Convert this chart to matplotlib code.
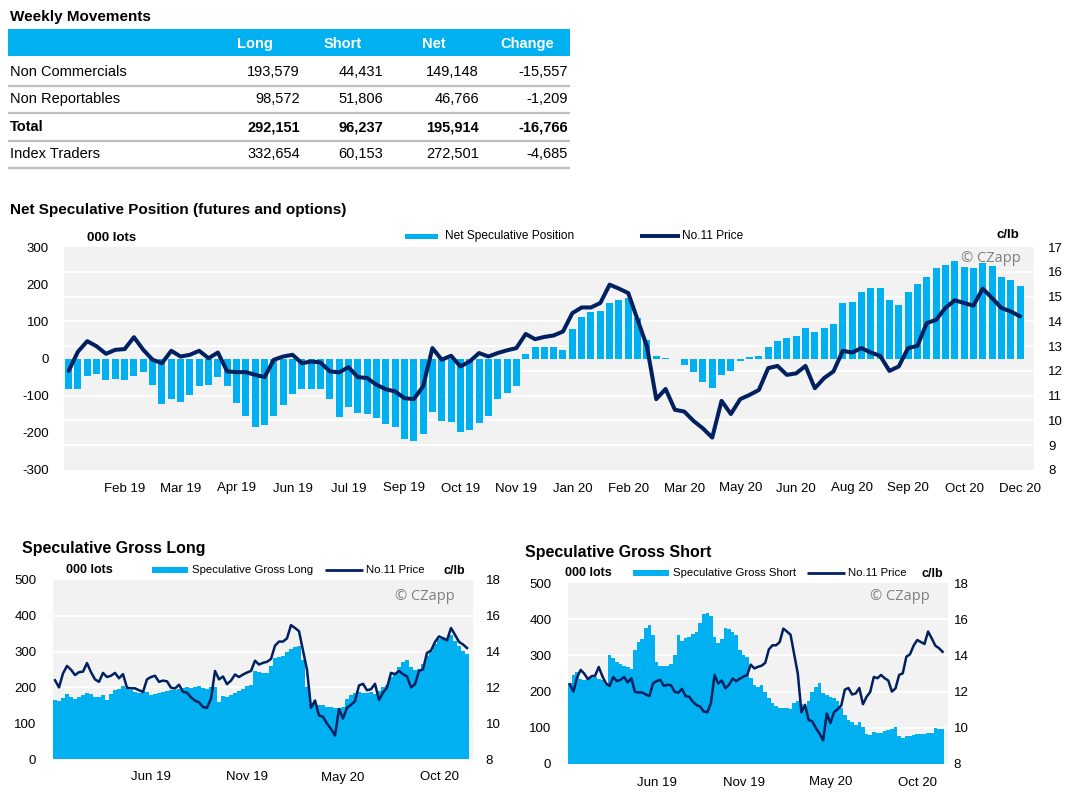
import matplotlib
matplotlib.use('Agg')
import matplotlib.pyplot as plt
from matplotlib.patches import Rectangle
from matplotlib.lines import Line2D
import numpy as np

plt.rcParams['font.family'] = ['Liberation Sans', 'DejaVu Sans']
plt.rcParams['axes.unicode_minus'] = False

W, H = 1070, 801
BLUE = '#00B0F0'
NAVY = '#002060'
BG = '#F2F2F2'

# ---- weekly movements table ----
table_head = ['Long', 'Short', 'Net', 'Change']
table_rows = ['Non Commercials', 'Non Reportables', 'Total', 'Index Traders']
col_long = ['193,579', '98,572', '292,151', '332,654']
col_short = ['44,431', '51,806', '96,237', '60,153']
col_net = ['149,148', '46,766', '195,914', '272,501']
col_change = ['-15,557', '-1,209', '-16,766', '-4,685']

# ---- weekly series, 18 Dec 2018 .. 8 Dec 2020 (104 weeks) ----
price = [12.4, 12.0, 12.78, 13.2, 12.99, 12.69, 12.85, 12.88, 13.36, 12.85,
         12.45, 12.31, 12.81, 12.58, 12.65, 12.81, 12.51, 12.74, 11.98, 11.95,
         11.95, 11.84, 11.75, 12.45, 12.58, 12.65, 12.31, 12.38, 12.34, 11.98,
         11.94, 12.15, 11.75, 11.71, 11.44, 11.26, 11.17, 10.9, 10.86, 11.37,
         12.92, 12.45, 12.61, 12.18, 12.38, 12.72, 12.58, 12.72, 12.83, 12.92,
         13.49, 13.28, 13.37, 13.43, 13.59, 14.33, 14.56, 14.56, 14.74, 15.48,
         15.32, 15.14, 14.06, 12.99, 10.86, 11.27, 10.43, 10.36, 9.98, 9.68,
         9.31, 10.79, 10.26, 10.86, 11.03, 11.23, 12.11, 12.2, 11.84, 11.9,
         12.2, 11.3, 11.71, 11.98, 12.81, 12.74, 12.92, 12.74, 12.61, 12.0,
         12.18, 12.92, 13.01, 13.93, 14.06, 14.54, 14.85, 14.74, 14.63, 15.32,
         14.94, 14.54, 14.4, 14.2]

# net speculative position, 25 Dec 2018 .. 8 Dec 2020 (103 weeks), 000 lots
net_spec = [-82, -82, -48, -43, -57, -55, -58, -46, -37, -70,
            -123, -109, -117, -97, -75, -72, -50, -73, -120, -154,
            -184, -180, -155, -124, -95, -81, -81, -81, -109, -157,
            -131, -146, -150, -160, -176, -185, -216, -222, -202, -145,
            -167, -171, -199, -193, -174, -155, -108, -93, -73, 13,
            32, 31, 30, 22, 80, 111, 125, 129, 148, 158,
            164, 108, 51, 7, 1, -2, -18, -37, -63, -79,
            -45, -34, -7, 4, 8, 31, 47, 56, 60, 82,
            71, 82, 93, 148, 152, 179, 189, 190, 158, 144,
            179, 201, 219, 243, 252, 261, 245, 243, 256, 250,
            219, 212, 196]

gross_long = [166, 161, 170, 182, 173, 168, 173, 180, 184, 182,
              173, 173, 178, 166, 182, 192, 196, 203, 198, 192,
              187, 184, 189, 187, 180, 182, 184, 187, 190, 194,
              192, 196, 199, 201, 199, 201, 203, 199, 195, 200,
              200, 160, 175, 173, 180, 184, 190, 196, 203, 206,
              247, 243, 240, 240, 261, 282, 286, 289, 298, 307,
              314, 317, 276, 200, 155, 153, 150, 150, 145, 145,
              143, 143, 145, 168, 178, 185, 187, 184, 184, 187,
              182, 190, 201, 206, 230, 238, 256, 270, 277, 256,
              249, 252, 264, 289, 303, 321, 335, 340, 338, 345,
              330, 317, 303, 292]

gross_short = [225, 246, 255, 236, 231, 234, 238, 240, 236, 231,
               222, 302, 292, 283, 275, 270, 267, 262, 315, 338,
               345, 375, 383, 355, 283, 272, 270, 272, 275, 300,
               355, 340, 348, 352, 358, 366, 390, 415, 418, 410,
               350, 335, 345, 375, 372, 365, 355, 315, 300, 296,
               237, 218, 214, 218, 200, 182, 168, 160, 156, 154,
               154, 153, 168, 173, 165, 158, 173, 200, 212, 223,
               196, 190, 186, 182, 175, 154, 135, 122, 115, 108,
               117, 103, 82, 80, 89, 86, 85, 90, 94, 98,
               101, 78, 71, 78, 76, 80, 83, 84, 82, 85,
               86, 100, 97, 96]

main_labels = ['Feb 19', 'Mar 19', 'Apr 19', 'Jun 19', 'Jul 19', 'Sep 19',
               'Oct 19', 'Nov 19', 'Jan 20', 'Feb 20', 'Mar 20', 'May 20',
               'Jun 20', 'Aug 20', 'Sep 20', 'Oct 20', 'Dec 20']
small_labels = ['Jun 19', 'Nov 19', 'May 20', 'Oct 20']


fig = plt.figure(figsize=(W / 100, H / 100), dpi=100)
fig.patch.set_facecolor('white')


def fx(x):
    return x / W


def fy(y):
    return 1 - y / H


def px_axes(x0, y0, x1, y1):
    return fig.add_axes([fx(x0), fy(y1), (x1 - x0) / W, (y1 - y0) / H])


def ftext(x, y, s, **kw):
    kw.setdefault('va', 'center')
    fig.text(fx(x), fy(y), s, **kw)


def fline(x0, x1, y, color, lw):
    fig.add_artist(Line2D([fx(x0), fx(x1)], [fy(y), fy(y)], color=color,
                          lw=lw, transform=fig.transFigure,
                          solid_capstyle='butt'))


def frect(x0, y0, x1, y1, color):
    fig.add_artist(Rectangle((fx(x0), fy(y1)), (x1 - x0) / W, (y1 - y0) / H,
                             facecolor=color, edgecolor='none',
                             transform=fig.transFigure))


# ---------------- table ----------------
ftext(10, 17, 'Weekly Movements', fontsize=11, fontweight='bold')
frect(8, 29, 570, 56, BLUE)
head_x = [255, 343, 434, 527]
for x, s in zip(head_x, table_head):
    ftext(x, 44, s, ha='center', color='white', fontsize=10.5,
          fontweight='bold')
num_right = [300, 383, 479, 568]
row_y = [72, 99, 127, 154]
cols = [col_long, col_short, col_net, col_change]
for i, name in enumerate(table_rows):
    fw = 'bold' if name == 'Total' else 'normal'
    ftext(10, row_y[i], name, fontsize=10.5, fontweight=fw)
    for c in range(4):
        ftext(num_right[c], row_y[i], cols[c][i], ha='right',
              fontsize=10.5, fontweight=fw)
    fline(8, 570, row_y[i] + 14, '#BFBFBF', 1.6)

# ---------------- main chart ----------------
ftext(10, 210, 'Net Speculative Position (futures and options)',
      fontsize=11, fontweight='bold')

ax = px_axes(64, 247, 1034, 470)
ax.set_facecolor(BG)
xm = np.arange(len(net_spec))
ax.bar(xm, net_spec, width=0.75, color=BLUE, zorder=2)
ax.set_xlim(-0.5, 103.5)
ax.set_ylim(-300, 300)
ax.set_yticks(range(-300, 301, 100))
ax.set_xticks(xm[6::6])
ax.set_xticklabels(main_labels)
for p in range(9, 17):
    ax.axhline(-300 + (p - 8) / 9 * 600, color='white', lw=1.3, zorder=1)

ax2 = ax.twinx()
ax2.plot(xm, price[1:], color=NAVY, lw=2.9, solid_joinstyle='round',
         solid_capstyle='round', zorder=3)
ax2.set_ylim(8, 17)
ax2.set_yticks(range(8, 18))

for a in (ax, ax2):
    for sp in a.spines.values():
        sp.set_visible(False)
ax.tick_params(axis='y', length=0, pad=11, labelsize=9.5)
ax.tick_params(axis='x', length=0, pad=9, labelsize=9.5)
ax2.tick_params(axis='y', length=0, pad=10, labelsize=9.5)

ftext(87, 238, '000 lots', fontsize=9.5, fontweight='bold')
frect(405, 234, 438, 239, BLUE)
ftext(445, 236, 'Net Speculative Position', fontsize=8.6)
fline(640, 680, 236, NAVY, 2.8)
ftext(682, 236, 'No.11 Price', fontsize=8.6)
ftext(1019, 235, 'c/lb', ha='right', fontsize=9.5, fontweight='bold')
ftext(1021, 258, '\u00a9 CZapp', ha='right', fontsize=10.5, color='#7F7F7F',
      family=['Open Sans', 'DejaVu Sans'])


# ---------------- small charts ----------------
def small_chart(box, series, title, tpos, legend, label_pads):
    x0, y0, x1, y1 = box
    a = px_axes(x0, y0, x1, y1)
    a.set_facecolor(BG)
    xs = np.arange(len(series))
    a.stairs(series, np.arange(len(series) + 1) - 0.5, fill=True,
             color=BLUE, zorder=2)
    for v in (100, 200, 300, 400):
        a.axhline(v, color='white', lw=1.3, zorder=1)
    a.set_xlim(-0.5, 104.5)
    a.set_ylim(0, 500)
    a.set_yticks(range(0, 501, 100))
    a.set_xticks(xs[24::24])
    a.set_xticklabels(small_labels)
    b = a.twinx()
    b.plot(xs, price, color=NAVY, lw=1.8, solid_joinstyle='round', zorder=3)
    b.set_ylim(8, 18)
    b.set_yticks(range(8, 19, 2))
    for q in (a, b):
        for sp in q.spines.values():
            sp.set_visible(False)
    a.tick_params(axis='y', length=0, pad=label_pads[0], labelsize=9.5)
    a.tick_params(axis='x', length=0, pad=label_pads[1], labelsize=9.5)
    b.tick_params(axis='y', length=0, pad=label_pads[2], labelsize=9.5)

    ftext(tpos[0], tpos[1], title, fontsize=11.5, fontweight='bold')
    lx = legend
    ly = tpos[1] + 21
    ftext(lx[0], ly, '000 lots', fontsize=9, fontweight='bold')
    frect(lx[1], ly - 3, lx[1] + 36, ly + 3, BLUE)
    ftext(lx[1] + 40, ly, title, fontsize=8.2)
    fline(lx[2], lx[2] + 38, ly, NAVY, 2)
    ftext(lx[2] + 41, ly, 'No.11 Price', fontsize=8.2)
    ftext(lx[3], ly + 1, 'c/lb', fontsize=9, fontweight='bold')
    ftext(x1 - 18, 597, '\u00a9 CZapp', ha='right', fontsize=10.5,
          color='#7F7F7F', family=['Open Sans', 'DejaVu Sans'])


small_chart((53, 580, 473, 759), gross_long, 'Speculative Gross Long',
            (22, 549), (66, 152, 325, 443), (12, 9, 9))
small_chart((568, 583, 948, 764), gross_short, 'Speculative Gross Short',
            (525, 552), (565, 633, 807, 922), (12, 9, 4))

fig.savefig('out.png', dpi=100)
